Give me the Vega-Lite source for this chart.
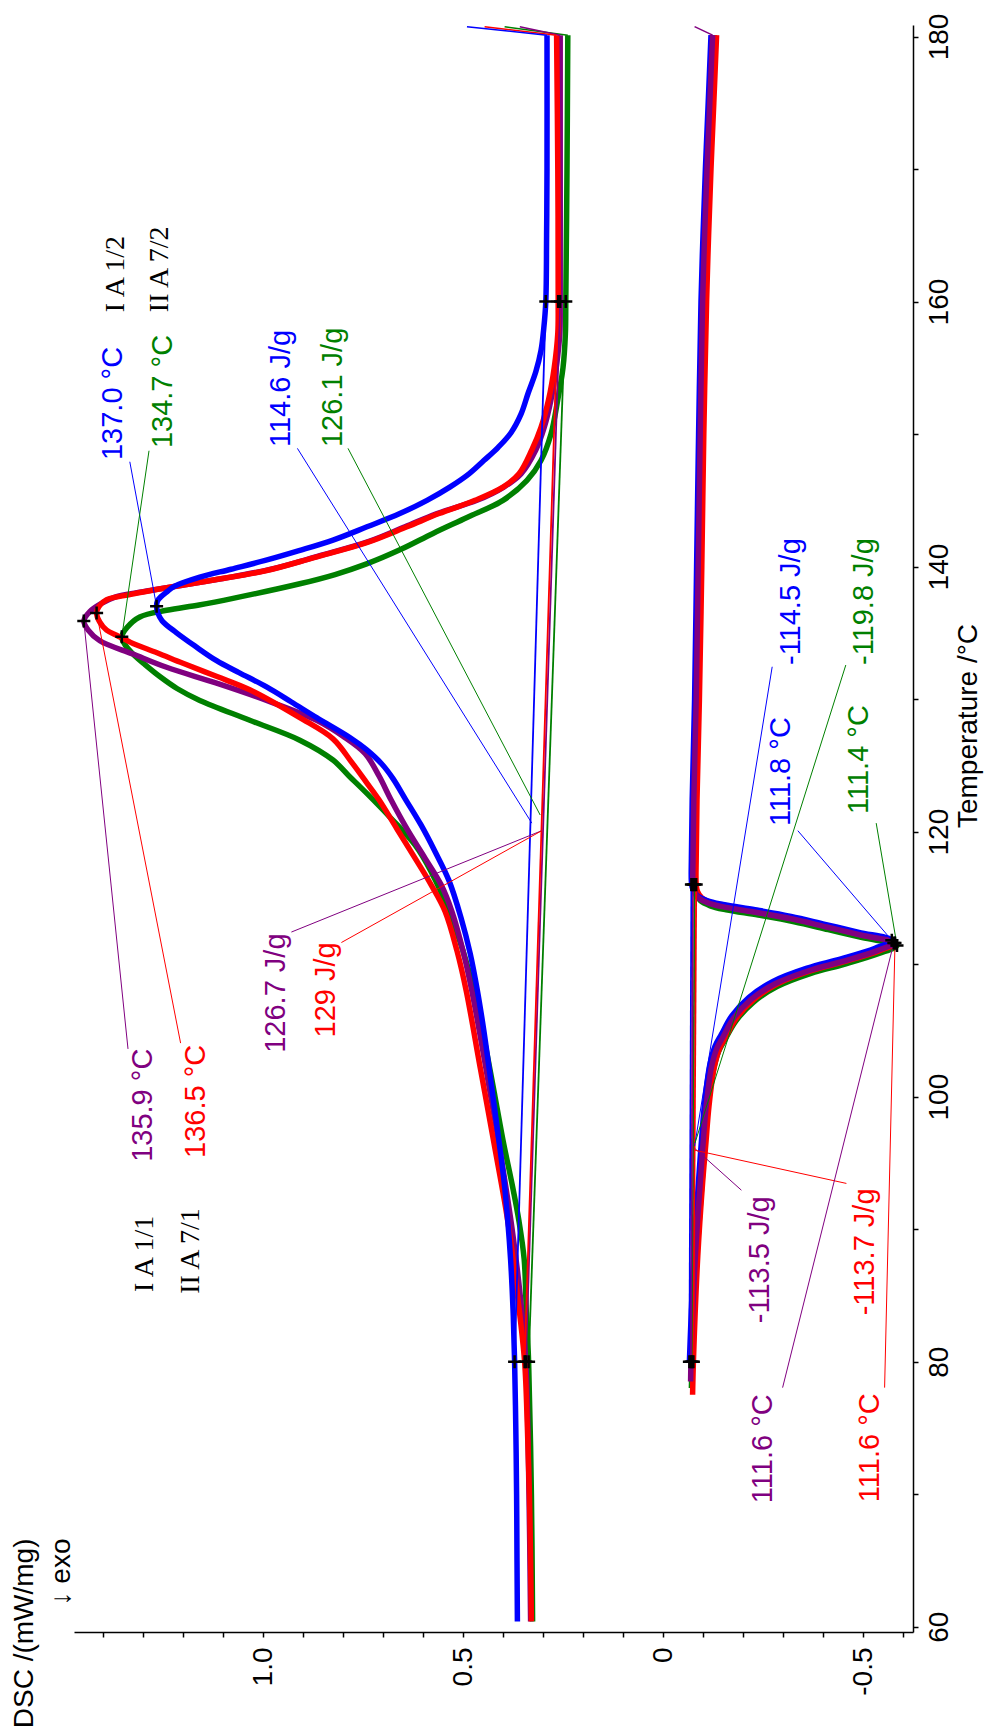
{
  "$schema": "https://vega.github.io/schema/vega-lite/v6.json",
  "width": 839,
  "height": 1607,
  "autosize": {"type": "none"},
  "padding": {"left": 74, "top": 25, "right": 72, "bottom": 104},
  "config": {"view": {"stroke": null}},
  "datasets": {
    "heat": [
      {"s":"II A 7/2","T":60.4,"v":0.326},{"s":"II A 7/2","T":70,"v":0.329},{"s":"II A 7/2","T":80,"v":0.336},{"s":"II A 7/2","T":84,"v":0.342},{"s":"II A 7/2","T":87.7,"v":0.347},{"s":"II A 7/2","T":90.6,"v":0.36},{"s":"II A 7/2","T":93.5,"v":0.378},{"s":"II A 7/2","T":96.4,"v":0.398},{"s":"II A 7/2","T":100,"v":0.42},{"s":"II A 7/2","T":104,"v":0.445},{"s":"II A 7/2","T":108,"v":0.473},{"s":"II A 7/2","T":111,"v":0.5},{"s":"II A 7/2","T":114,"v":0.535},{"s":"II A 7/2","T":117,"v":0.58},{"s":"II A 7/2","T":119,"v":0.62},{"s":"II A 7/2","T":121,"v":0.68},{"s":"II A 7/2","T":122.9,"v":0.741},{"s":"II A 7/2","T":124.2,"v":0.785},{"s":"II A 7/2","T":125.4,"v":0.825},{"s":"II A 7/2","T":126.9,"v":0.908},{"s":"II A 7/2","T":128.4,"v":1.033},{"s":"II A 7/2","T":129.9,"v":1.158},{"s":"II A 7/2","T":130.8,"v":1.215},{"s":"II A 7/2","T":131.7,"v":1.258},{"s":"II A 7/2","T":132.6,"v":1.295},{"s":"II A 7/2","T":133.4,"v":1.325},{"s":"II A 7/2","T":134.1,"v":1.345},{"s":"II A 7/2","T":134.7,"v":1.353},{"s":"II A 7/2","T":135.4,"v":1.34},{"s":"II A 7/2","T":136.2,"v":1.308},{"s":"II A 7/2","T":136.7,"v":1.241},{"s":"II A 7/2","T":137.1,"v":1.16},{"s":"II A 7/2","T":137.6,"v":1.075},{"s":"II A 7/2","T":138.7,"v":0.908},{"s":"II A 7/2","T":139.4,"v":0.82},{"s":"II A 7/2","T":140.2,"v":0.741},{"s":"II A 7/2","T":141.3,"v":0.655},{"s":"II A 7/2","T":142.5,"v":0.575},{"s":"II A 7/2","T":143.7,"v":0.49},{"s":"II A 7/2","T":145,"v":0.4},{"s":"II A 7/2","T":146.5,"v":0.34},{"s":"II A 7/2","T":148,"v":0.305},{"s":"II A 7/2","T":150,"v":0.28},{"s":"II A 7/2","T":152.6,"v":0.263},{"s":"II A 7/2","T":155,"v":0.25},{"s":"II A 7/2","T":157.6,"v":0.244},{"s":"II A 7/2","T":160,"v":0.243},{"s":"II A 7/2","T":170,"v":0.24},{"s":"II A 7/2","T":180.1,"v":0.238},

      {"s":"I A 1/1","T":60.4,"v":0.331},{"s":"I A 1/1","T":70,"v":0.335},{"s":"I A 1/1","T":80,"v":0.343},{"s":"I A 1/1","T":85,"v":0.357},{"s":"I A 1/1","T":90.6,"v":0.38},{"s":"I A 1/1","T":96.4,"v":0.41},{"s":"I A 1/1","T":102.2,"v":0.443},{"s":"I A 1/1","T":108,"v":0.478},{"s":"I A 1/1","T":111,"v":0.5},{"s":"I A 1/1","T":114,"v":0.528},{"s":"I A 1/1","T":116,"v":0.555},{"s":"I A 1/1","T":118,"v":0.595},{"s":"I A 1/1","T":120.2,"v":0.64},{"s":"I A 1/1","T":122.4,"v":0.68},{"s":"I A 1/1","T":124.2,"v":0.71},{"s":"I A 1/1","T":125.9,"v":0.745},{"s":"I A 1/1","T":127.2,"v":0.8},{"s":"I A 1/1","T":128.4,"v":0.866},{"s":"I A 1/1","T":129.9,"v":0.991},{"s":"I A 1/1","T":131.2,"v":1.116},{"s":"I A 1/1","T":132.4,"v":1.241},{"s":"I A 1/1","T":133.4,"v":1.325},{"s":"I A 1/1","T":134.4,"v":1.408},{"s":"I A 1/1","T":135.2,"v":1.437},{"s":"I A 1/1","T":135.9,"v":1.448},{"s":"I A 1/1","T":136.6,"v":1.433},{"s":"I A 1/1","T":137.2,"v":1.405},{"s":"I A 1/1","T":137.7,"v":1.37},{"s":"I A 1/1","T":138.1,"v":1.3},{"s":"I A 1/1","T":138.5,"v":1.22},{"s":"I A 1/1","T":139.1,"v":1.1},{"s":"I A 1/1","T":139.8,"v":0.98},{"s":"I A 1/1","T":140.8,"v":0.86},{"s":"I A 1/1","T":141.9,"v":0.735},{"s":"I A 1/1","T":143,"v":0.645},{"s":"I A 1/1","T":144,"v":0.565},{"s":"I A 1/1","T":145,"v":0.465},{"s":"I A 1/1","T":146,"v":0.398},{"s":"I A 1/1","T":147,"v":0.355},{"s":"I A 1/1","T":148.8,"v":0.318},{"s":"I A 1/1","T":150.5,"v":0.297},{"s":"I A 1/1","T":152.6,"v":0.28},{"s":"I A 1/1","T":155,"v":0.267},{"s":"I A 1/1","T":157.6,"v":0.258},{"s":"I A 1/1","T":160,"v":0.257},{"s":"I A 1/1","T":170,"v":0.257},{"s":"I A 1/1","T":180.1,"v":0.257},

      {"s":"II A 7/1","T":60.4,"v":0.329},{"s":"II A 7/1","T":65,"v":0.331},{"s":"II A 7/1","T":70,"v":0.334},{"s":"II A 7/1","T":75,"v":0.339},{"s":"II A 7/1","T":80,"v":0.346},{"s":"II A 7/1","T":84.8,"v":0.363},{"s":"II A 7/1","T":90.6,"v":0.388},{"s":"II A 7/1","T":96.4,"v":0.422},{"s":"II A 7/1","T":102.2,"v":0.457},{"s":"II A 7/1","T":108,"v":0.492},{"s":"II A 7/1","T":111,"v":0.515},{"s":"II A 7/1","T":114,"v":0.545},{"s":"II A 7/1","T":116,"v":0.58},{"s":"II A 7/1","T":118,"v":0.62},{"s":"II A 7/1","T":120.2,"v":0.665},{"s":"II A 7/1","T":122.4,"v":0.71},{"s":"II A 7/1","T":123.7,"v":0.741},{"s":"II A 7/1","T":125.3,"v":0.78},{"s":"II A 7/1","T":127,"v":0.825},{"s":"II A 7/1","T":128.6,"v":0.908},{"s":"II A 7/1","T":130.7,"v":1.033},{"s":"II A 7/1","T":131.7,"v":1.115},{"s":"II A 7/1","T":132.7,"v":1.2},{"s":"II A 7/1","T":133.5,"v":1.265},{"s":"II A 7/1","T":134.2,"v":1.325},{"s":"II A 7/1","T":134.8,"v":1.365},{"s":"II A 7/1","T":135.2,"v":1.391},{"s":"II A 7/1","T":135.8,"v":1.408},{"s":"II A 7/1","T":136.5,"v":1.416},{"s":"II A 7/1","T":137,"v":1.41},{"s":"II A 7/1","T":137.5,"v":1.391},{"s":"II A 7/1","T":137.9,"v":1.33},{"s":"II A 7/1","T":138.4,"v":1.241},{"s":"II A 7/1","T":139,"v":1.12},{"s":"II A 7/1","T":139.7,"v":0.991},{"s":"II A 7/1","T":140.7,"v":0.87},{"s":"II A 7/1","T":141.8,"v":0.741},{"s":"II A 7/1","T":143,"v":0.64},{"s":"II A 7/1","T":144,"v":0.56},{"s":"II A 7/1","T":145,"v":0.47},{"s":"II A 7/1","T":146,"v":0.4},{"s":"II A 7/1","T":147,"v":0.36},{"s":"II A 7/1","T":148.8,"v":0.328},{"s":"II A 7/1","T":150.5,"v":0.305},{"s":"II A 7/1","T":152.6,"v":0.286},{"s":"II A 7/1","T":155,"v":0.272},{"s":"II A 7/1","T":157.6,"v":0.263},{"s":"II A 7/1","T":160,"v":0.262},{"s":"II A 7/1","T":170,"v":0.263},{"s":"II A 7/1","T":180.1,"v":0.266},

      {"s":"I A 1/2","T":60.4,"v":0.364},{"s":"I A 1/2","T":65,"v":0.365},{"s":"I A 1/2","T":70,"v":0.366},{"s":"I A 1/2","T":75,"v":0.368},{"s":"I A 1/2","T":80,"v":0.371},{"s":"I A 1/2","T":84,"v":0.375},{"s":"I A 1/2","T":87.7,"v":0.381},{"s":"I A 1/2","T":90.6,"v":0.388},{"s":"I A 1/2","T":93.5,"v":0.397},{"s":"I A 1/2","T":96.4,"v":0.409},{"s":"I A 1/2","T":99.3,"v":0.422},{"s":"I A 1/2","T":102.2,"v":0.435},{"s":"I A 1/2","T":105,"v":0.448},{"s":"I A 1/2","T":108,"v":0.464},{"s":"I A 1/2","T":110.8,"v":0.482},{"s":"I A 1/2","T":113.5,"v":0.505},{"s":"I A 1/2","T":116.3,"v":0.535},{"s":"I A 1/2","T":118.5,"v":0.57},{"s":"I A 1/2","T":120.5,"v":0.605},{"s":"I A 1/2","T":122.4,"v":0.643},{"s":"I A 1/2","T":124,"v":0.675},{"s":"I A 1/2","T":125.1,"v":0.703},{"s":"I A 1/2","T":126.2,"v":0.742},{"s":"I A 1/2","T":127.1,"v":0.783},{"s":"I A 1/2","T":128.6,"v":0.866},{"s":"I A 1/2","T":129.8,"v":0.93},{"s":"I A 1/2","T":130.9,"v":0.99},{"s":"I A 1/2","T":132,"v":1.06},{"s":"I A 1/2","T":132.9,"v":1.116},{"s":"I A 1/2","T":134,"v":1.17},{"s":"I A 1/2","T":135,"v":1.216},{"s":"I A 1/2","T":135.9,"v":1.252},{"s":"I A 1/2","T":136.5,"v":1.263},{"s":"I A 1/2","T":137,"v":1.266},{"s":"I A 1/2","T":137.4,"v":1.264},{"s":"I A 1/2","T":137.7,"v":1.256},{"s":"I A 1/2","T":138.1,"v":1.24},{"s":"I A 1/2","T":138.5,"v":1.222},{"s":"I A 1/2","T":139.2,"v":1.158},{"s":"I A 1/2","T":139.8,"v":1.08},{"s":"I A 1/2","T":140.5,"v":0.99},{"s":"I A 1/2","T":141.2,"v":0.91},{"s":"I A 1/2","T":142,"v":0.825},{"s":"I A 1/2","T":143,"v":0.74},{"s":"I A 1/2","T":144,"v":0.658},{"s":"I A 1/2","T":145,"v":0.59},{"s":"I A 1/2","T":146,"v":0.533},{"s":"I A 1/2","T":147,"v":0.485},{"s":"I A 1/2","T":148,"v":0.448},{"s":"I A 1/2","T":149,"v":0.412},{"s":"I A 1/2","T":150.1,"v":0.38},{"s":"I A 1/2","T":151.5,"v":0.355},{"s":"I A 1/2","T":153.1,"v":0.337},{"s":"I A 1/2","T":154.7,"v":0.318},{"s":"I A 1/2","T":156.3,"v":0.305},{"s":"I A 1/2","T":158,"v":0.298},{"s":"I A 1/2","T":160,"v":0.293},{"s":"I A 1/2","T":165,"v":0.291},{"s":"I A 1/2","T":170,"v":0.29},{"s":"I A 1/2","T":180.1,"v":0.29}
    ],
    "cool": [
      {"s":"II A 7/2","T":180.1,"v":-0.128},{"s":"II A 7/2","T":175,"v":-0.121},{"s":"II A 7/2","T":170,"v":-0.114},{"s":"II A 7/2","T":165,"v":-0.108},{"s":"II A 7/2","T":160,"v":-0.103},{"s":"II A 7/2","T":150,"v":-0.097},{"s":"II A 7/2","T":140,"v":-0.092},{"s":"II A 7/2","T":130,"v":-0.087},{"s":"II A 7/2","T":122.4,"v":-0.081},{"s":"II A 7/2","T":118,"v":-0.079},{"s":"II A 7/2","T":115.8,"v":-0.079},{"s":"II A 7/2","T":115.3,"v":-0.082},{"s":"II A 7/2","T":114.8,"v":-0.093},{"s":"II A 7/2","T":114.4,"v":-0.118},{"s":"II A 7/2","T":114.1,"v":-0.158},{"s":"II A 7/2","T":113.7,"v":-0.238},{"s":"II A 7/2","T":113.2,"v":-0.328},{"s":"II A 7/2","T":112.6,"v":-0.413},{"s":"II A 7/2","T":112,"v":-0.498},{"s":"II A 7/2","T":111.4,"v":-0.585},{"s":"II A 7/2","T":110.8,"v":-0.54},{"s":"II A 7/2","T":110,"v":-0.455},{"s":"II A 7/2","T":109.3,"v":-0.37},{"s":"II A 7/2","T":108.3,"v":-0.285},{"s":"II A 7/2","T":107.1,"v":-0.225},{"s":"II A 7/2","T":105.7,"v":-0.182},{"s":"II A 7/2","T":104.3,"v":-0.155},{"s":"II A 7/2","T":103.4,"v":-0.139},{"s":"II A 7/2","T":102,"v":-0.126},{"s":"II A 7/2","T":99.1,"v":-0.112},{"s":"II A 7/2","T":96.2,"v":-0.104},{"s":"II A 7/2","T":93.3,"v":-0.097},{"s":"II A 7/2","T":88,"v":-0.085},{"s":"II A 7/2","T":80,"v":-0.073},{"s":"II A 7/2","T":78,"v":-0.071},

      {"s":"II A 7/1","T":180.1,"v":-0.134},{"s":"II A 7/1","T":175,"v":-0.127},{"s":"II A 7/1","T":170,"v":-0.12},{"s":"II A 7/1","T":165,"v":-0.114},{"s":"II A 7/1","T":160,"v":-0.109},{"s":"II A 7/1","T":150,"v":-0.102},{"s":"II A 7/1","T":140,"v":-0.097},{"s":"II A 7/1","T":130,"v":-0.091},{"s":"II A 7/1","T":122.4,"v":-0.085},{"s":"II A 7/1","T":118,"v":-0.083},{"s":"II A 7/1","T":116,"v":-0.083},{"s":"II A 7/1","T":115.5,"v":-0.086},{"s":"II A 7/1","T":115,"v":-0.097},{"s":"II A 7/1","T":114.6,"v":-0.122},{"s":"II A 7/1","T":114.3,"v":-0.162},{"s":"II A 7/1","T":113.9,"v":-0.24},{"s":"II A 7/1","T":113.4,"v":-0.33},{"s":"II A 7/1","T":112.8,"v":-0.414},{"s":"II A 7/1","T":112.2,"v":-0.498},{"s":"II A 7/1","T":111.6,"v":-0.58},{"s":"II A 7/1","T":111,"v":-0.54},{"s":"II A 7/1","T":110.2,"v":-0.455},{"s":"II A 7/1","T":109.5,"v":-0.37},{"s":"II A 7/1","T":108.5,"v":-0.285},{"s":"II A 7/1","T":107.3,"v":-0.226},{"s":"II A 7/1","T":105.9,"v":-0.183},{"s":"II A 7/1","T":104.5,"v":-0.157},{"s":"II A 7/1","T":103.6,"v":-0.141},{"s":"II A 7/1","T":102.2,"v":-0.128},{"s":"II A 7/1","T":99.3,"v":-0.115},{"s":"II A 7/1","T":96.4,"v":-0.107},{"s":"II A 7/1","T":93.5,"v":-0.099},{"s":"II A 7/1","T":88,"v":-0.087},{"s":"II A 7/1","T":80,"v":-0.076},{"s":"II A 7/1","T":77.5,"v":-0.074},

      {"s":"I A 1/2","T":180.1,"v":-0.12},{"s":"I A 1/2","T":175,"v":-0.113},{"s":"I A 1/2","T":170,"v":-0.106},{"s":"I A 1/2","T":165,"v":-0.1},{"s":"I A 1/2","T":160,"v":-0.095},{"s":"I A 1/2","T":150,"v":-0.089},{"s":"I A 1/2","T":140,"v":-0.084},{"s":"I A 1/2","T":130,"v":-0.079},{"s":"I A 1/2","T":122.4,"v":-0.073},{"s":"I A 1/2","T":118,"v":-0.071},{"s":"I A 1/2","T":116.2,"v":-0.071},{"s":"I A 1/2","T":115.7,"v":-0.074},{"s":"I A 1/2","T":115.2,"v":-0.085},{"s":"I A 1/2","T":114.8,"v":-0.11},{"s":"I A 1/2","T":114.5,"v":-0.15},{"s":"I A 1/2","T":114.1,"v":-0.23},{"s":"I A 1/2","T":113.6,"v":-0.32},{"s":"I A 1/2","T":113,"v":-0.405},{"s":"I A 1/2","T":112.4,"v":-0.49},{"s":"I A 1/2","T":111.8,"v":-0.572},{"s":"I A 1/2","T":111.2,"v":-0.53},{"s":"I A 1/2","T":110.4,"v":-0.445},{"s":"I A 1/2","T":109.7,"v":-0.36},{"s":"I A 1/2","T":108.7,"v":-0.275},{"s":"I A 1/2","T":107.5,"v":-0.215},{"s":"I A 1/2","T":106.1,"v":-0.172},{"s":"I A 1/2","T":104.7,"v":-0.146},{"s":"I A 1/2","T":103.8,"v":-0.13},{"s":"I A 1/2","T":102.4,"v":-0.117},{"s":"I A 1/2","T":99.5,"v":-0.104},{"s":"I A 1/2","T":96.6,"v":-0.096},{"s":"I A 1/2","T":93.7,"v":-0.089},{"s":"I A 1/2","T":88,"v":-0.077},{"s":"I A 1/2","T":80,"v":-0.066},

      {"s":"I A 1/1","T":180.1,"v":-0.124},{"s":"I A 1/1","T":175,"v":-0.117},{"s":"I A 1/1","T":170,"v":-0.11},{"s":"I A 1/1","T":165,"v":-0.104},{"s":"I A 1/1","T":160,"v":-0.099},{"s":"I A 1/1","T":150,"v":-0.093},{"s":"I A 1/1","T":140,"v":-0.088},{"s":"I A 1/1","T":130,"v":-0.083},{"s":"I A 1/1","T":122.4,"v":-0.077},{"s":"I A 1/1","T":118,"v":-0.075},{"s":"I A 1/1","T":116,"v":-0.075},{"s":"I A 1/1","T":115.5,"v":-0.078},{"s":"I A 1/1","T":115,"v":-0.089},{"s":"I A 1/1","T":114.6,"v":-0.114},{"s":"I A 1/1","T":114.3,"v":-0.154},{"s":"I A 1/1","T":113.9,"v":-0.234},{"s":"I A 1/1","T":113.4,"v":-0.324},{"s":"I A 1/1","T":112.8,"v":-0.409},{"s":"I A 1/1","T":112.2,"v":-0.494},{"s":"I A 1/1","T":111.6,"v":-0.577},{"s":"I A 1/1","T":111,"v":-0.534},{"s":"I A 1/1","T":110.2,"v":-0.449},{"s":"I A 1/1","T":109.5,"v":-0.364},{"s":"I A 1/1","T":108.5,"v":-0.279},{"s":"I A 1/1","T":107.3,"v":-0.219},{"s":"I A 1/1","T":105.9,"v":-0.176},{"s":"I A 1/1","T":104.5,"v":-0.15},{"s":"I A 1/1","T":103.6,"v":-0.134},{"s":"I A 1/1","T":102.2,"v":-0.121},{"s":"I A 1/1","T":99.3,"v":-0.108},{"s":"I A 1/1","T":96.4,"v":-0.1},{"s":"I A 1/1","T":93.5,"v":-0.093},{"s":"I A 1/1","T":88,"v":-0.081},{"s":"I A 1/1","T":80,"v":-0.07},{"s":"I A 1/1","T":78.5,"v":-0.069}
    ],
    "hooks": [
      {"s":"II A 7/2","seg":"h","T":180.1,"v":0.238},{"s":"II A 7/2","seg":"h","T":180.74,"v":0.396},
      {"s":"I A 1/1","seg":"h","T":180.1,"v":0.257},{"s":"I A 1/1","seg":"h","T":180.74,"v":0.358},
      {"s":"II A 7/1","seg":"h","T":180.1,"v":0.266},{"s":"II A 7/1","seg":"h","T":180.74,"v":0.446},
      {"s":"I A 1/2","seg":"h","T":180.1,"v":0.29},{"s":"I A 1/2","seg":"h","T":180.74,"v":0.49},
      {"s":"I A 1/1","seg":"c","T":180.1,"v":-0.124},{"s":"I A 1/1","seg":"c","T":180.74,"v":-0.079}
    ],
    "bases": [
      {"s":"II A 7/2","seg":"h","T":80,"v":0.336},{"s":"II A 7/2","seg":"h","T":160,"v":0.243},
      {"s":"I A 1/1","seg":"h","T":80,"v":0.343},{"s":"I A 1/1","seg":"h","T":160,"v":0.257},
      {"s":"II A 7/1","seg":"h","T":80,"v":0.346},{"s":"II A 7/1","seg":"h","T":160,"v":0.262},
      {"s":"I A 1/2","seg":"h","T":80,"v":0.371},{"s":"I A 1/2","seg":"h","T":160,"v":0.293},
      {"s":"II A 7/2","seg":"c","T":80,"v":-0.073},{"s":"II A 7/2","seg":"c","T":116,"v":-0.079},
      {"s":"II A 7/1","seg":"c","T":80,"v":-0.076},{"s":"II A 7/1","seg":"c","T":116,"v":-0.083},
      {"s":"I A 1/2","seg":"c","T":80,"v":-0.066},{"s":"I A 1/2","seg":"c","T":116,"v":-0.071},
      {"s":"I A 1/1","seg":"c","T":80,"v":-0.07},{"s":"I A 1/1","seg":"c","T":116,"v":-0.075}
    ],
    "points": [
      {"s":"I A 1/2","T":80,"v":0.371},{"s":"I A 1/2","T":160,"v":0.293},{"s":"I A 1/2","T":137.0,"v":1.266},
      {"s":"II A 7/2","T":80,"v":0.336},{"s":"II A 7/2","T":160,"v":0.243},{"s":"II A 7/2","T":134.7,"v":1.353},
      {"s":"I A 1/1","T":80,"v":0.343},{"s":"I A 1/1","T":160,"v":0.257},{"s":"I A 1/1","T":135.9,"v":1.448},
      {"s":"II A 7/1","T":80,"v":0.346},{"s":"II A 7/1","T":160,"v":0.262},{"s":"II A 7/1","T":136.5,"v":1.416},
      {"s":"I A 1/2","T":80,"v":-0.066},{"s":"I A 1/2","T":116,"v":-0.071},{"s":"I A 1/2","T":111.8,"v":-0.572},
      {"s":"II A 7/2","T":80,"v":-0.073},{"s":"II A 7/2","T":116,"v":-0.079},{"s":"II A 7/2","T":111.4,"v":-0.585},
      {"s":"I A 1/1","T":80,"v":-0.07},{"s":"I A 1/1","T":116,"v":-0.075},{"s":"I A 1/1","T":111.6,"v":-0.577},
      {"s":"II A 7/1","T":80,"v":-0.076},{"s":"II A 7/1","T":116,"v":-0.083},{"s":"II A 7/1","T":111.6,"v":-0.58}
    ],
    "leaders": [
      {"s":"I A 1/2","T":147.91,"v":1.333,"T2":137.0,"v2":1.266},
      {"s":"II A 7/2","T":148.74,"v":1.285,"T2":134.7,"v2":1.353},
      {"s":"I A 1/2","T":148.92,"v":0.914,"T2":120.64,"v2":0.328},
      {"s":"II A 7/2","T":148.92,"v":0.7875,"T2":121.25,"v2":0.307},
      {"s":"I A 1/1","T":103.6,"v":1.3375,"T2":135.9,"v2":1.448},
      {"s":"II A 7/1","T":104.04,"v":1.206,"T2":136.5,"v2":1.416},
      {"s":"I A 1/1","T":112.42,"v":0.929,"T2":120.07,"v2":0.303},
      {"s":"II A 7/1","T":111.63,"v":0.804,"T2":120.07,"v2":0.303},
      {"s":"I A 1/2","T":120.07,"v":-0.337,"T2":111.8,"v2":-0.572},
      {"s":"II A 7/2","T":120.64,"v":-0.533,"T2":111.4,"v2":-0.585},
      {"s":"I A 1/2","T":132.44,"v":-0.273,"T2":96.26,"v2":-0.079},
      {"s":"II A 7/2","T":132.57,"v":-0.457,"T2":96.5,"v2":-0.08},
      {"s":"I A 1/1","T":92.94,"v":-0.196,"T2":96.1,"v2":-0.079},
      {"s":"II A 7/1","T":93.45,"v":-0.4585,"T2":95.96,"v2":-0.079},
      {"s":"I A 1/1","T":78.04,"v":-0.299,"T2":111.6,"v2":-0.577},
      {"s":"II A 7/1","T":78.04,"v":-0.554,"T2":111.6,"v2":-0.58}
    ],
    "notes": [
      {"t":"137.0 °C","s":"I A 1/2","T":148.04,"v":1.375},
      {"t":"134.7 °C","s":"II A 7/2","T":148.94,"v":1.25},
      {"t":"114.6 J/g","s":"I A 1/2","T":149.02,"v":0.954},
      {"t":"126.1 J/g","s":"II A 7/2","T":149.02,"v":0.825},
      {"t":"135.9 °C","s":"I A 1/1","T":95.08,"v":1.3},
      {"t":"136.5 °C","s":"II A 7/1","T":95.37,"v":1.1665},
      {"t":"126.7 J/g","s":"I A 1/1","T":103.31,"v":0.9665},
      {"t":"129 J/g","s":"II A 7/1","T":104.47,"v":0.8415},
      {"t":"-114.5 J/g","s":"I A 1/2","T":132.57,"v":-0.32},
      {"t":"-119.8 J/g","s":"II A 7/2","T":132.57,"v":-0.5035},
      {"t":"111.8 °C","s":"I A 1/2","T":120.42,"v":-0.294},
      {"t":"111.4 °C","s":"II A 7/2","T":121.33,"v":-0.491},
      {"t":"-113.5 J/g","s":"I A 1/1","T":82.9,"v":-0.242},
      {"t":"-113.7 J/g","s":"II A 7/1","T":83.5,"v":-0.504},
      {"t":"111.6 °C","s":"I A 1/1","T":69.32,"v":-0.249},
      {"t":"111.6 °C","s":"II A 7/1","T":69.4,"v":-0.517}
    ],
    "samples": [
      {"t":"I A 1/2","T":159.2,"v":1.3665},
      {"t":"II A 7/2","T":159.2,"v":1.258},
      {"t":"I A 1/1","T":85.26,"v":1.296},
      {"t":"II A 7/1","T":85.12,"v":1.179}
    ]
  },
  "encoding": {
    "x": {
      "field": "v", "type": "quantitative",
      "scale": {"domain": [-0.625, 1.4725], "reverse": true, "nice": false, "zero": false},
      "axis": {
        "orient": "bottom",
        "values": [-0.6,-0.5,-0.4,-0.3,-0.2,-0.1,0,0.1,0.2,0.3,0.4,0.5,0.6,0.7,0.8,0.9,1,1.1,1.2,1.3,1.4],
        "labelExpr": "abs(datum.value-1)<1e-6 ? '1.0' : abs(datum.value-0.5)<1e-6 ? '0.5' : abs(datum.value)<1e-6 ? '0' : abs(datum.value+0.5)<1e-6 ? '-0.5' : ''",
        "labelAngle": 270, "labelAlign": "right", "labelBaseline": "middle",
        "labelFont": "Liberation Sans", "labelFontSize": 28, "labelColor": "#000", "labelPadding": 10,
        "labelOverlap": false, "labelFlush": false, "labelBound": false,
        "tickSize": 5, "tickColor": "#000", "tickWidth": 1.5,
        "domainColor": "#000", "domainWidth": 1.5, "grid": false,
        "title": ["DSC /(mW/mg)", "↓ exo"],
        "titleAngle": 270, "titleAlign": "right", "titleBaseline": "top",
        "titleX": -64, "titleY": -94, "titleLineHeight": 37,
        "titleFont": "Liberation Sans", "titleFontSize": 28, "titleFontWeight": "normal", "titleColor": "#000"
      }
    },
    "y": {
      "field": "T", "type": "quantitative",
      "scale": {"domain": [59.6, 180.868], "nice": false, "zero": false},
      "axis": {
        "orient": "right",
        "values": [60,70,80,90,100,110,120,130,140,150,160,170,180],
        "labelExpr": "datum.value % 20 == 0 ? datum.value + '' : ''",
        "labelAngle": 270, "labelAlign": "center", "labelBaseline": "top",
        "labelFont": "Liberation Sans", "labelFontSize": 28, "labelColor": "#000", "labelPadding": 7,
        "labelOverlap": false, "labelFlush": false, "labelBound": false,
        "tickSize": 5, "tickColor": "#000", "tickWidth": 1.5,
        "domainColor": "#000", "domainWidth": 1.5, "grid": false,
        "title": "Temperature /°C",
        "titleAngle": 270, "titleAlign": "center", "titleBaseline": "middle",
        "titleX": 55, "titleY": 700.5,
        "titleFont": "Liberation Sans", "titleFontSize": 28, "titleFontWeight": "normal", "titleColor": "#000"
      }
    }
  },
  "layer": [
    {
      "data": {"name": "heat"},
      "mark": {"type": "line", "strokeWidth": 5.5, "strokeCap": "butt", "strokeJoin": "round", "interpolate": "catmull-rom"},
      "encoding": {
        "order": {"field": "T"},
        "color": {"field": "s", "type": "nominal", "legend": null,
          "scale": {"domain": ["I A 1/2","II A 7/2","I A 1/1","II A 7/1"], "range": ["#0000ff","#008000","#800080","#ff0000"]}}
      }
    },
    {
      "data": {"name": "cool"},
      "mark": {"type": "line", "strokeWidth": 5.5, "strokeCap": "butt", "strokeJoin": "round", "interpolate": "catmull-rom"},
      "encoding": {
        "order": {"field": "T"},
        "color": {"field": "s", "type": "nominal", "legend": null}
      }
    },
    {
      "data": {"name": "hooks"},
      "mark": {"type": "line", "strokeWidth": 1.5},
      "encoding": {
        "order": {"field": "T"},
        "detail": {"field": "seg"},
        "color": {"field": "s", "type": "nominal", "legend": null}
      }
    },
    {
      "data": {"name": "bases"},
      "mark": {"type": "line", "strokeWidth": 1.8},
      "encoding": {
        "order": {"field": "T"},
        "detail": {"field": "seg"},
        "color": {"field": "s", "type": "nominal", "legend": null}
      }
    },
    {
      "data": {"name": "leaders"},
      "mark": {"type": "rule", "strokeWidth": 1},
      "encoding": {
        "x2": {"field": "v2"},
        "y2": {"field": "T2"},
        "color": {"field": "s", "type": "nominal", "legend": null}
      }
    },
    {
      "data": {"name": "points"},
      "mark": {"type": "point", "shape": "M-1,0H1M0,-1V1", "size": 170, "filled": false, "stroke": "#000", "strokeWidth": 2.5, "opacity": 1}
    },
    {
      "data": {"name": "notes"},
      "mark": {"type": "text", "angle": 270, "align": "left", "baseline": "middle", "font": "Liberation Sans", "fontSize": 29},
      "encoding": {
        "text": {"field": "t"},
        "color": {"field": "s", "type": "nominal", "legend": null}
      }
    },
    {
      "data": {"name": "samples"},
      "mark": {"type": "text", "angle": 270, "align": "left", "baseline": "middle", "font": "Liberation Serif", "fontSize": 28, "color": "#000"},
      "encoding": {
        "text": {"field": "t"}
      }
    }
  ]
}
